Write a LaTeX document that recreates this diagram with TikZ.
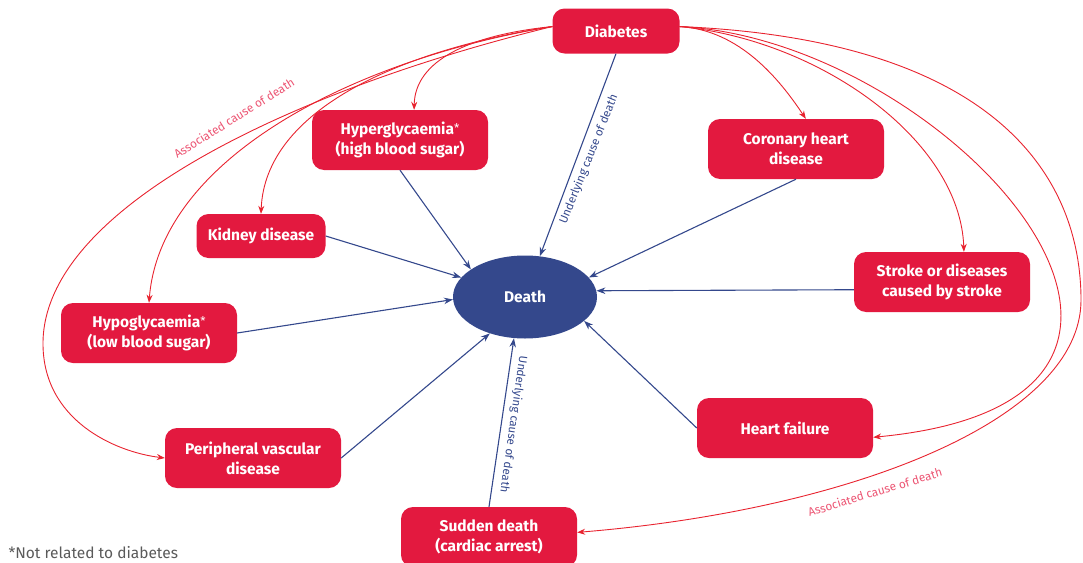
\documentclass[tikz,border=0pt]{standalone}
\usepackage{fontspec}
\setmainfont{Fira Sans}
\usepackage{tikz}
\usetikzlibrary{positioning}
\usetikzlibrary{shapes.geometric,arrows.meta}
\definecolor{boxred}{HTML}{E3193F}
\definecolor{arrred}{HTML}{E8232F}
\definecolor{lblpink}{HTML}{EC5573}
\definecolor{arrblue}{HTML}{34488C}
\definecolor{notegray}{HTML}{5A5A5A}
\newcommand{\nodiab}{{\mdseries\raisebox{2pt}{\fontsize{12}{12}\selectfont*}}}
\tikzset{
	x=1pt, y=-1pt,
	cause/.style = {rectangle, rounded corners=12pt, fill=boxred, text=white,
		font=\fontsize{15.5}{20}\selectfont\bfseries, align=center,
		minimum width=176pt, minimum height=60pt, inner sep=2pt},
	outcome/.style = {ellipse, fill=arrblue, text=white,
		font=\fontsize{15.5}{20}\selectfont\bfseries,
		minimum width=144pt, minimum height=83pt},
	toD/.style = {draw=arrblue, line width=1.1pt, -{Stealth[length=9pt,width=6.5pt]}},
	toC/.style = {draw=arrred, line width=0.9pt, -{Stealth[length=8pt,width=6pt]}},
	under/.style = {font=\fontsize{11.6}{13}\selectfont, text=arrblue, inner sep=5.5pt},
	assoc/.style = {font=\fontsize{11.8}{13}\selectfont, text=lblpink, inner sep=2pt},
}

\begin{document}
\begin{tikzpicture}
	\useasboundingbox (0,0) rectangle (1083,562);
	\node (dia)    [cause, minimum width=127pt, minimum height=45pt] at (616,31) {Diabetes};
	\node (hyper)  [cause] at (400,140) {Hyperglycaemia\nodiab\\(high blood sugar)};
	\node (chd)    [cause] at (796,149) {Coronary heart\\disease};
	\node (kidney) [cause, minimum width=129pt, minimum height=44pt] at (261,236) {Kidney disease};
	\node (stroke) [cause] at (942,282) {Stroke or diseases\\caused by stroke};
	\node (death)  [outcome] at (525,297) {Death};
	\node (hypo)   [cause] at (149,333) {Hypoglycaemia\nodiab\\(low blood sugar)};
	\node (hf)     [cause] at (785,428) {Heart failure};
	\node (pvd)    [cause] at (253,458) {Peripheral vascular\\disease};
	\node (sudden) [cause] at (489,537) {Sudden death\\(cardiac arrest)};
	\node (note)   [anchor=west, font=\fontsize{15.5}{17}\selectfont, text=notegray] at (5,553) {*Not related to diabetes};

	% underlying cause
	\path (dia.south) edge[toD] node[under, pos=0.5, rotate=68, anchor=north] {Underlying cause of death} (death.70);
	\path (hyper.south) edge[toD] (death.153);
	\path (kidney.east) edge[toD] (death.163);
	\path (hypo.east) edge[toD] (death.182);
	\path (pvd.east) edge[toD] (death.226);
	\path (sudden.north) edge[toD] node[under, pos=0.5, rotate=-98, anchor=south] {Underlying cause of death} (death.255);
	\path (hf.west) edge[toD] (death.338);
	\path (stroke.185) edge[toD] (death.5);
	\path (chd.south) edge[toD] (death.17);

	% associated cause
	\draw[toC] (dia.176) .. controls (470,35) and (415,60) .. (hyper.65);
	\draw[toC] (dia.176) .. controls (400,50) and (265,110) .. (kidney.north);
	\draw[toC] (dia.176) .. controls (350,60) and (160,160) .. (hypo.north);
	\draw[toC] (dia.176) .. controls (300,88) and (45,205) .. (43,342)
		.. controls (42,420) and (115,452) .. (pvd.west);
	\draw[toC] (dia.4) .. controls (740,30) and (780,80) .. (chd.72);
	\draw[toC] (dia.4) .. controls (820,40) and (960,140) .. (stroke.54);
	\draw[toC] (dia.4) .. controls (950,40) and (1270,400) .. (hf.-6);
	\draw[toC] (dia.4) .. controls (1000,40) and (1081,180) .. (1081,300)
		.. controls (1081,420) and (850,510) .. (sudden.3);
	\node (assocL) [assoc, rotate=32] at (234,118) {Associated cause of death};
	\node (assocR) [assoc, rotate=17] at (875,492) {Associated cause of death};
\end{tikzpicture}
\end{document}
